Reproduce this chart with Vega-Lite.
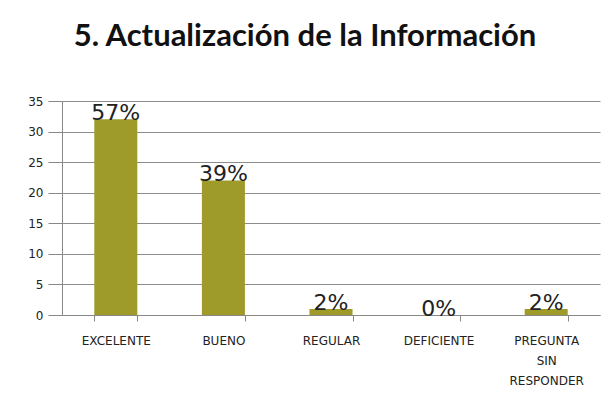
{
  "$schema": "https://vega.github.io/schema/vega-lite/v6.json",
  "autosize": {"type": "none"},
  "width": 538,
  "height": 214,
  "padding": {"left": 62, "top": 101, "right": 8, "bottom": 88},
  "background": "white",
  "title": {
    "text": "5. Actualización de la Información",
    "font": "Lato",
    "fontSize": 31,
    "fontWeight": "bold",
    "color": "#111111",
    "anchor": "middle",
    "frame": "group",
    "dx": -26,
    "offset": 18,
    "baseline": "alphabetic"
  },
  "data": {
    "values": [
      {"cat": "EXCELENTE", "n": 32, "pct": "57%"},
      {"cat": "BUENO", "n": 22, "pct": "39%"},
      {"cat": "REGULAR", "n": 1, "pct": "2%"},
      {"cat": "DEFICIENTE", "n": 0, "pct": "0%"},
      {"cat": "PREGUNTA SIN RESPONDER", "n": 1, "pct": "2%"}
    ]
  },
  "encoding": {
    "x": {
      "field": "cat",
      "type": "nominal",
      "sort": null,
      "scale": {"paddingInner": 0.6, "paddingOuter": 0.3},
      "axis": {
        "title": null,
        "labelAngle": 0,
        "labelExpr": "split(datum.label, ' ')",
        "labelFont": "DejaVu Sans",
        "labelFontSize": 12,
        "labelColor": "#222222",
        "labelLineHeight": 20,
        "labelPadding": 14,
        "labelBaseline": "top",
        "labelLimit": 200,
        "tickBand": "extent",
        "tickSize": 6,
        "tickColor": "#888888",
        "domainColor": "#888888",
        "grid": false
      }
    },
    "y": {
      "field": "n",
      "type": "quantitative",
      "scale": {"domain": [0, 35], "nice": false},
      "axis": {
        "title": null,
        "values": [0, 5, 10, 15, 20, 25, 30, 35],
        "labelFont": "DejaVu Sans",
        "labelFontSize": 12,
        "labelColor": "#222222",
        "labelPadding": 5,
        "tickSize": 14,
        "tickColor": "#888888",
        "domainColor": "#888888",
        "gridColor": "#8c8c8c",
        "gridOpacity": 1
      }
    }
  },
  "layer": [
    {"mark": {"type": "bar", "color": "#9e9b2b"}},
    {
      "mark": {"type": "text", "font": "DejaVu Sans", "fontSize": 22, "color": "#222222", "baseline": "alphabetic", "dy": 1},
      "encoding": {"text": {"field": "pct"}}
    }
  ],
  "config": {"view": {"stroke": null}}
}
